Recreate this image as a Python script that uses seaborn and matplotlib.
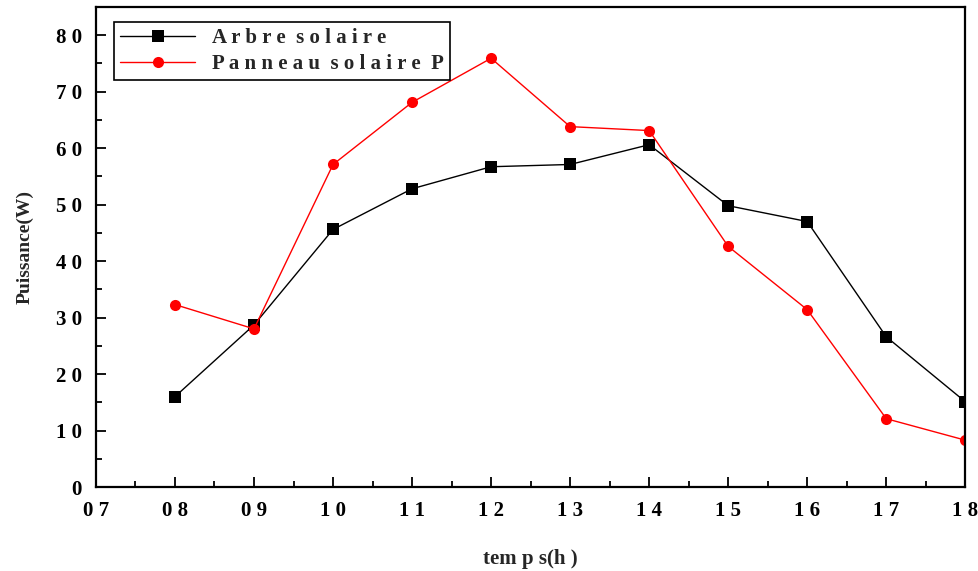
import numpy as np
import pandas as pd
import matplotlib
matplotlib.use("Agg")
import matplotlib.pyplot as plt
from matplotlib.ticker import MultipleLocator, FixedLocator, FixedFormatter
import seaborn as sns

# data
hours = [8, 9, 10, 11, 12, 13, 14, 15, 16, 17, 18]
arbre = [16.0, 28.7, 45.6, 52.8, 56.7, 57.1, 60.6, 49.8, 47.0, 26.6, 15.1]
panneau = [32.3, 28.0, 57.1, 68.1, 75.9, 63.8, 63.1, 42.6, 31.4, 12.1, 8.3]
series_names = ["Arbre solaire", "Panneau solaire P"]
legend_labels = ["A r b r e  s o l a i r e", "P a n n e a u  s o l a i r e  P"]
x_ticks = [7, 8, 9, 10, 11, 12, 13, 14, 15, 16, 17, 18]
x_ticklabels = ["0 7", "0 8", "0 9", "1 0", "1 1", "1 2", "1 3", "1 4", "1 5", "1 6", "1 7", "1 8"]
y_ticks = [0, 10, 20, 30, 40, 50, 60, 70, 80]
y_ticklabels = ["0", "1 0", "2 0", "3 0", "4 0", "5 0", "6 0", "7 0", "8 0"]

df = pd.DataFrame({
    "temps": hours * 2,
    "puissance": arbre + panneau,
    "serie": [series_names[0]] * len(hours) + [series_names[1]] * len(hours),
})

sns.set_style("ticks")
plt.rcParams["font.family"] = ["Liberation Serif", "DejaVu Serif"]
plt.rcParams["font.weight"] = "bold"

fig = plt.figure(figsize=(9.79, 5.71), dpi=100)
ax = fig.add_axes([0.098, 0.147, 0.888, 0.841])

sns.lineplot(
    data=df, x="temps", y="puissance", hue="serie", style="serie",
    hue_order=series_names, style_order=series_names,
    palette={series_names[0]: "black", series_names[1]: "red"},
    markers={series_names[0]: "s", series_names[1]: "o"},
    dashes=False, linewidth=1, markersize=8, markeredgewidth=0, ax=ax,
)

ax.set_xlim(7, 18)
ax.set_ylim(0, 85)
ax.xaxis.set_major_locator(FixedLocator(x_ticks))
ax.xaxis.set_major_formatter(FixedFormatter(x_ticklabels))
ax.yaxis.set_major_locator(FixedLocator(y_ticks))
ax.yaxis.set_major_formatter(FixedFormatter(y_ticklabels))
ax.xaxis.set_minor_locator(MultipleLocator(0.5))
ax.yaxis.set_minor_locator(MultipleLocator(5))
ax.tick_params(which="both", direction="in", top=False, right=False, width=1.3, colors="black")
ax.tick_params(which="major", length=7, labelsize=15, pad=10)
ax.tick_params(which="minor", length=4)
for lab in ax.get_xticklabels() + ax.get_yticklabels():
    lab.set_fontweight("bold")
for sp in ax.spines.values():
    sp.set_visible(True)
    sp.set_linewidth(1.6)
    sp.set_color("black")

ax.set_xlabel("tem p s(h )", fontsize=15, fontweight="bold", labelpad=20)
ax.set_ylabel("Puissance(W)", fontsize=14, fontweight="bold", labelpad=16)

handles, _ = ax.get_legend_handles_labels()
leg = ax.legend(handles, legend_labels, loc="upper left", bbox_to_anchor=(0.021, 0.969),
                borderaxespad=0, fancybox=False, framealpha=1, edgecolor="black",
                handlelength=3.6, borderpad=0.3, labelspacing=0.3, handletextpad=0.8,
                prop={"weight": "bold", "size": 15})
leg.get_frame().set_linewidth(1.2)

fig.savefig("out.png", dpi=100)
